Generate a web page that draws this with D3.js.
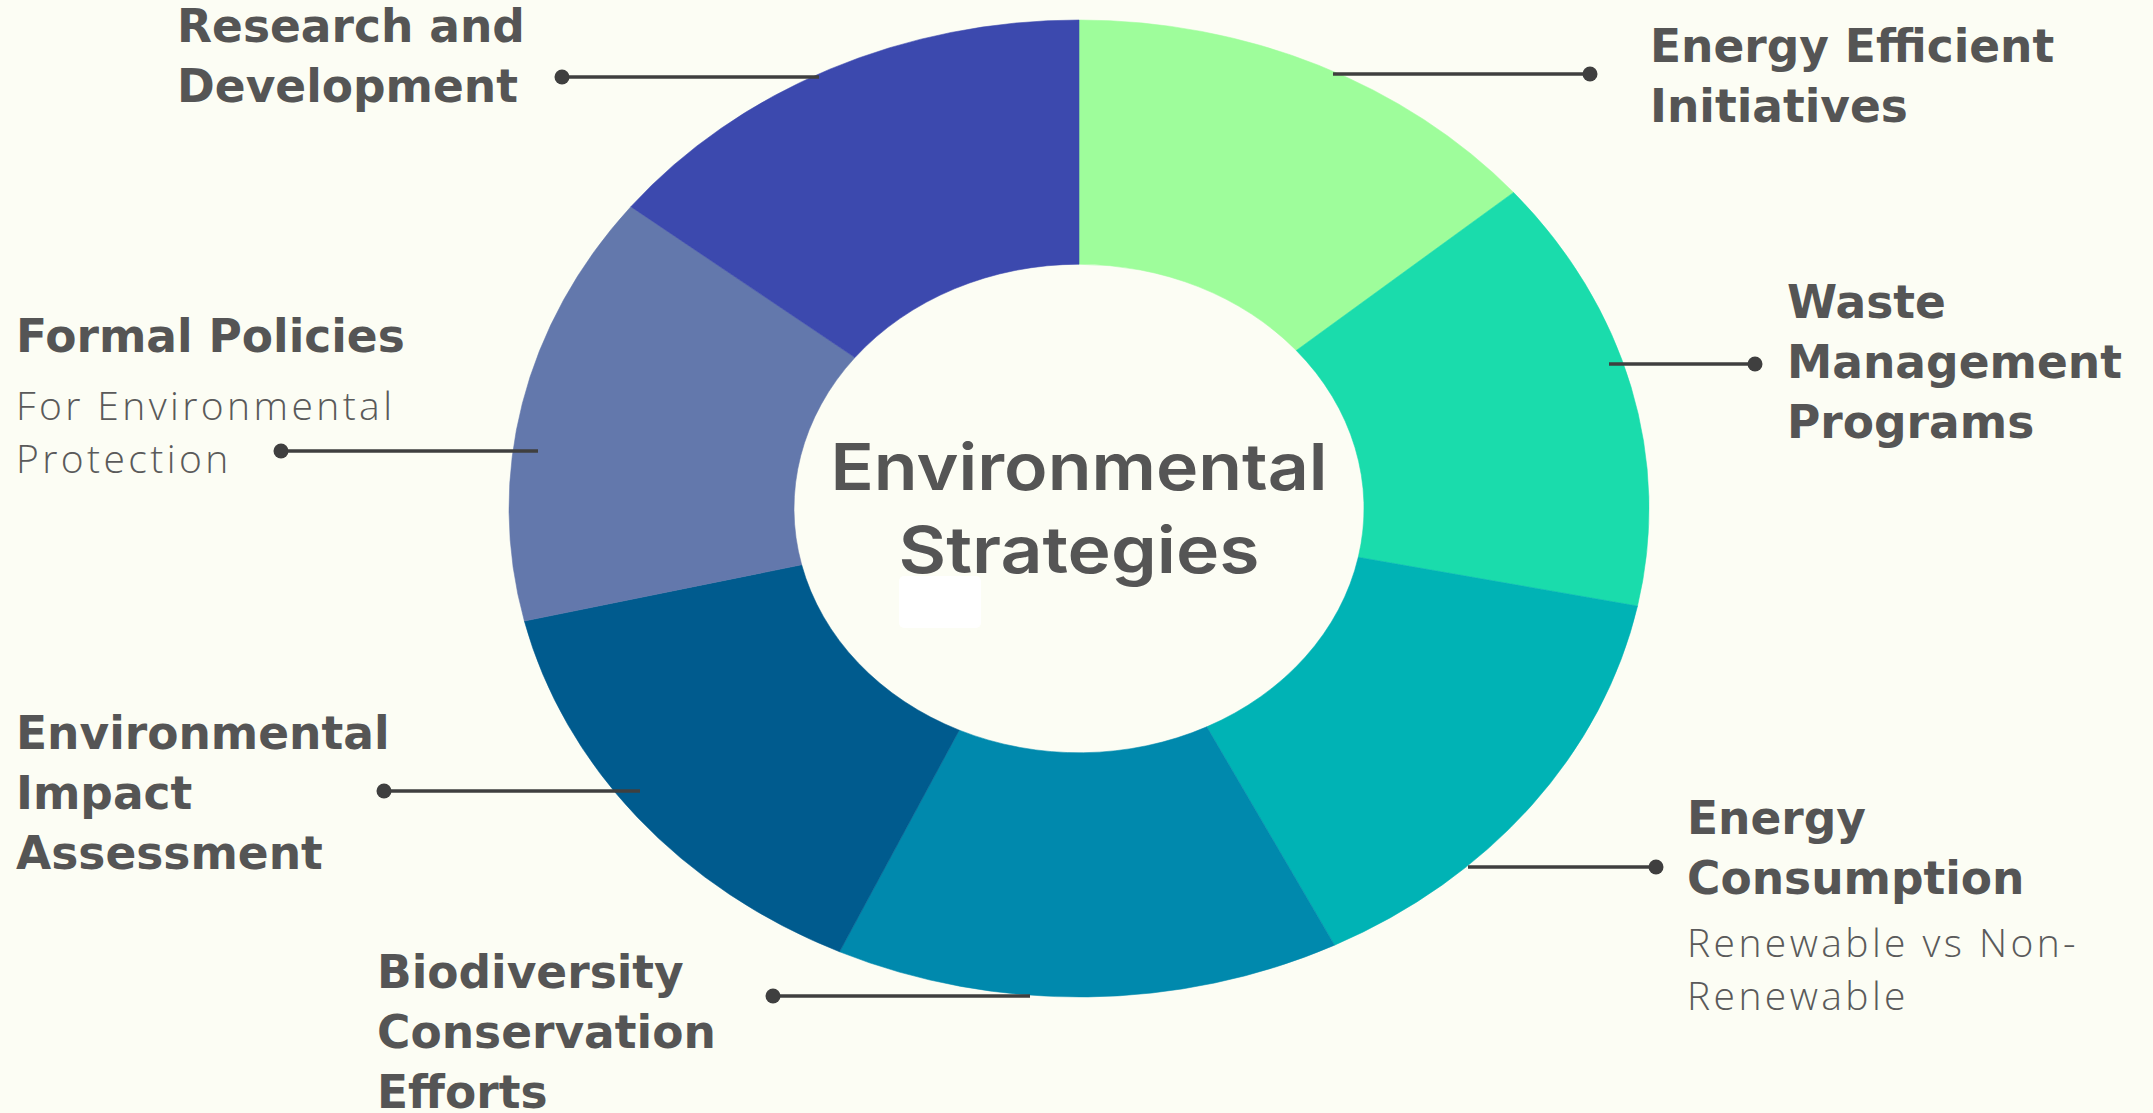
<!DOCTYPE html>
<html>
<head>
<meta charset="utf-8">
<script src="https://cdn.jsdelivr.net/npm/d3@7"></script>
<style>
  html, body { margin: 0; padding: 0; background: #fcfdf4; overflow: hidden; }
  svg { display: block; }
</style>
</head>
<body>
<svg id="chart" width="2153" height="1113"></svg>
<script>
// ---- data ----
const categories = [
  "Energy Efficient Initiatives",
  "Waste Management Programs",
  "Energy Consumption",
  "Biodiversity Conservation Efforts",
  "Environmental Impact Assessment",
  "Formal Policies",
  "Research and Development"
];
// slice shares (percent)
const values = [13.8, 14.4, 14.4, 14.3, 14.4, 14.3, 14.4];
const colors = ["#9efd9b", "#1adcac", "#00b3b5", "#0089ad", "#005b8e", "#6378ac", "#3c49ae"];
const titleLines = [
  ["Energy Efficient", "Initiatives"],
  ["Waste", "Management", "Programs"],
  ["Energy", "Consumption"],
  ["Biodiversity", "Conservation", "Efforts"],
  ["Environmental", "Impact", "Assessment"],
  ["Formal Policies"],
  ["Research and", "Development"]
];
const subLines = [
  [],
  [],
  ["Renewable vs Non-", "Renewable"],
  [],
  [],
  ["For Environmental", "Protection"],
  []
];
const centerTitle = ["Environmental", "Strategies"];

// ---- layout (annotation placement) ----
const layout = [
  { lineFrom: 1333, dotX: 1590, lineY: 74,  textX: 1650, base: 62,  sub: 0 },
  { lineFrom: 1609, dotX: 1755, lineY: 364, textX: 1787, base: 318, sub: 0 },
  { lineFrom: 1468, dotX: 1656, lineY: 867, textX: 1687, base: 834, sub: 957 },
  { lineFrom: 1030, dotX: 773,  lineY: 996, textX: 377,  base: 988, sub: 0 },
  { lineFrom: 640,  dotX: 384,  lineY: 791, textX: 16,   base: 749, sub: 0 },
  { lineFrom: 538,  dotX: 281,  lineY: 451, textX: 16,   base: 352, sub: 420 },
  { lineFrom: 819,  dotX: 562,  lineY: 77,  textX: 177,  base: 42,  sub: 0 }
];

const W = 2153, H = 1113;
const cx = 1079, cy = 508.5;
const R = 570, r = 285, yScale = 488.5 / 570;

const svg = d3.select("#chart");
svg.append("rect").attr("width", W).attr("height", H).attr("fill", "#fcfdf4");

const pie = d3.pie().sort(null).value(d => d).startAngle(0).endAngle(2 * Math.PI);
const arc = d3.arc().innerRadius(r).outerRadius(R);

const g = svg.append("g").attr("transform", `translate(${cx},${cy}) scale(1,${yScale})`);
g.selectAll("path")
  .data(pie(values))
  .join("path")
  .attr("d", arc)
  .attr("fill", (d, i) => colors[i])
  .attr("stroke", (d, i) => colors[i])
  .attr("stroke-width", 0.6);

// faint white box under the title
svg.append("rect")
  .attr("x", 899).attr("y", 576).attr("width", 82).attr("height", 52)
  .attr("rx", 5).attr("fill", "#ffffff");

// center title
const titleWidths = [497, 361];
const titleBases = [490, 573];
centerTitle.forEach((t, i) => {
  svg.append("text")
    .attr("x", cx).attr("y", titleBases[i])
    .attr("text-anchor", "middle")
    .attr("font-family", "Inter, 'Noto Sans', sans-serif")
    .attr("font-weight", 600)
    .attr("font-size", 65)
    .attr("fill", "#555555")
    .attr("textLength", titleWidths[i])
    .attr("lengthAdjust", "spacingAndGlyphs")
    .text(t);
});

// leader lines + labels
categories.forEach((c, i) => {
  const L = layout[i];
  svg.append("line")
    .attr("x1", L.lineFrom).attr("x2", L.dotX)
    .attr("y1", L.lineY).attr("y2", L.lineY)
    .attr("stroke", "#3f3f3f").attr("stroke-width", 3.5);
  svg.append("circle")
    .attr("cx", L.dotX).attr("cy", L.lineY).attr("r", 7.5)
    .attr("fill", "#3f3f3f");

  titleLines[i].forEach((t, j) => {
    svg.append("text")
      .attr("x", L.textX).attr("y", L.base + j * 60)
      .attr("font-family", "'DejaVu Sans', sans-serif")
      .attr("font-weight", "bold")
      .attr("font-size", 45.5)
      .attr("fill", "#555555")
      .text(t);
  });
  subLines[i].forEach((t, j) => {
    svg.append("text")
      .attr("x", L.textX).attr("y", L.sub + j * 52.5)
      .attr("font-family", "'Open Sans', sans-serif")
      .attr("font-weight", 300)
      .attr("font-size", 39)
      .attr("letter-spacing", 3.4)
      .attr("fill", "#5a5a5a")
      .text(t);
  });
});
</script>
</body>
</html>
